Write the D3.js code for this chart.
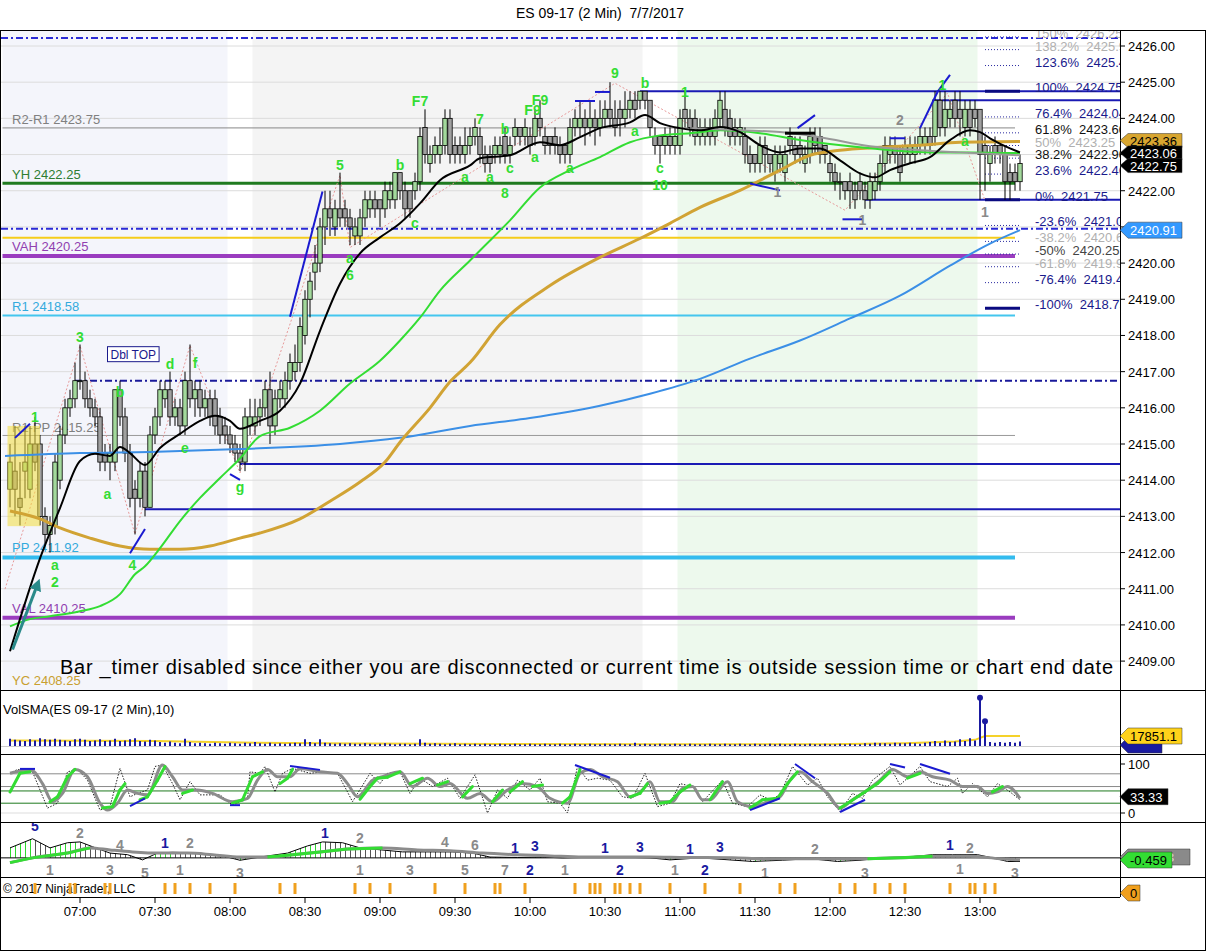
<!DOCTYPE html>
<html>
<head>
<meta charset="utf-8">
<script src="https://cdn.jsdelivr.net/npm/d3@7"></script>
<style>
  body { margin:0; background:#fff; }
  svg { display:block; font-family: Arial, "Liberation Sans", sans-serif; }
</style>
</head>
<body>
<svg id="chart" width="1206" height="952"></svg>
<script>
// ---- data (t = minutes after 06:30, bar i ends at t = 2 + 2i) ----
var bars = [
 [2413.75,2415,2413.25,2414.5],[2414.25,2415.5,2413,2413.75],[2413.5,2414.5,2412.75,2413.25],[2414.25,2415.5,2413.5,2414.5],
 [2413.75,2415.5,2413.5,2415],[2415,2415.75,2414.25,2414.5],[2415,2415.25,2412.75,2413],[2413,2413.25,2412.25,2412.5],
 [2412.5,2413,2412,2412.75],[2412.75,2414.75,2412.5,2414.5],[2414,2415.5,2413.75,2415.25],[2415.25,2416.25,2415,2416],
 [2416,2416.5,2415.75,2416.25],[2416.25,2417.25,2416,2416.75],[2416.75,2417.75,2416.5,2416.75],[2416.75,2417,2416,2416.25],
 [2416.25,2416.5,2415.75,2416],[2416,2416.25,2415.5,2415.75],[2415.75,2416,2414.25,2414.5],[2414.75,2415,2414.25,2414.5],
 [2414.5,2415,2414,2414.75],[2414.5,2416.5,2414.25,2416.5],[2416.5,2416.75,2415.5,2415.75],[2415.75,2416,2414.5,2414.75],
 [2414.75,2415,2413.25,2413.5],[2413.75,2414,2412.5,2413.5],[2413.5,2414.5,2413.25,2414.25],[2414.25,2414.5,2413,2413.25],
 [2413.25,2415.5,2413.25,2415.25],[2415.25,2416,2415,2415.75],[2415.75,2416.75,2415.5,2416.5],[2416.25,2416.75,2416,2416.5],
 [2416.5,2417,2415.5,2415.75],[2415.75,2416.25,2415.5,2416],[2416,2416.25,2415.25,2415.5],[2415.5,2417,2415.25,2416.75],
 [2416.75,2417.75,2416,2416.25],[2416.25,2416.75,2415.75,2416.5],[2416.5,2416.75,2415.75,2416],[2416,2416.5,2415.75,2416.25],
 [2416.25,2416.5,2415.5,2415.75],[2416.25,2416.5,2415.25,2415.5],[2415.75,2416,2415,2415.25],[2415.5,2415.75,2415,2415.25],
 [2415.25,2415.5,2414.75,2415],[2415,2415.25,2414.5,2414.75],[2414.75,2415,2414.25,2414.5],[2414.5,2416,2414.25,2415.75],
 [2415.5,2416.25,2415.25,2415.75],[2415.5,2416.25,2415.25,2415.75],[2415.75,2416.25,2415.5,2416],[2416,2416.75,2415.75,2416.5],
 [2416.5,2417,2415,2415.5],[2415.5,2416.5,2415.25,2416.25],[2416.25,2416.75,2416,2416.5],[2416.25,2417,2416,2416.75],
 [2416.75,2417.5,2416.5,2417.25],[2417,2417.75,2416.75,2417.25],[2417.25,2418.5,2417,2418.25],[2418,2419.25,2417.75,2419],
 [2419,2419.75,2418.5,2419.5],[2419.75,2420.5,2419.25,2420],[2420,2421.25,2419.75,2421],[2421,2422,2420.5,2421.5],
 [2421.5,2422,2420.75,2421.25],[2421,2421.75,2420.75,2421.5],[2421.5,2422.5,2421,2421.25],[2421.5,2421.75,2421,2421.25],
 [2421.25,2421.5,2420.5,2421],[2420.75,2421.25,2420.5,2421],[2420.75,2421.5,2420.5,2421.25],[2421.25,2422,2421,2421.75],
 [2421.5,2422,2421.25,2421.75],[2421.75,2422,2421.25,2421.5],[2421.75,2421.75,2421,2421.5],[2421.5,2422.25,2421.25,2422],
 [2421.75,2422.25,2421.5,2422],[2421.75,2422.5,2421.5,2422.5],[2422.5,2422.5,2421.75,2422],[2422,2422.25,2421.25,2421.5],
 [2422,2422,2421.25,2421.5],[2422,2422.5,2421.75,2422.25],[2422.25,2423.75,2422,2423.5],[2423.75,2424.25,2422.75,2423],
 [2422.75,2423.25,2422.5,2423],[2423,2423.5,2422.75,2423.25],[2423,2423.75,2422.75,2423.25],[2423.25,2424.25,2423,2424],
 [2424,2424.25,2422.75,2423],[2423.25,2423.5,2422.75,2423],[2423.25,2423.5,2422.75,2423],[2423,2423.75,2422.75,2423.25],
 [2423.25,2423.75,2423,2423.5],[2423.5,2424,2423.25,2423.75],[2423.5,2423.75,2422.75,2423],[2423,2423.25,2422.5,2422.75],
 [2423,2423.25,2422.5,2422.75],[2423,2423.5,2422.75,2423.25],[2423,2423.5,2422.75,2423.25],[2423.5,2423.75,2422.75,2423],
 [2423,2423.5,2422.75,2423.25],[2423.5,2424,2423.25,2423.75],[2423.75,2423.75,2423.25,2423.5],[2423.5,2424,2423.25,2423.75],
 [2423.5,2423.75,2423,2423.25],[2423.5,2424.25,2423.25,2424],[2424,2424.5,2423.5,2423.75],[2423.5,2423.75,2423,2423.25],
 [2423.5,2423.5,2423,2423.25],[2423.5,2423.75,2423,2423.25],[2423.25,2423.5,2422.75,2423],[2423.25,2423.25,2422.75,2423],
 [2423,2424,2422.75,2423.75],[2423.75,2424.25,2423.5,2424],[2423.75,2424.5,2423.5,2424],[2424,2424.25,2423.25,2423.75],
 [2423.75,2424.5,2423.5,2424],[2424,2424.25,2423.25,2423.75],[2423.75,2424.5,2423.5,2424],[2424,2424.5,2423.75,2424.25],
 [2424.25,2425,2423.75,2424],[2424,2424.5,2423.5,2423.75],[2424.25,2424.5,2423.5,2424],[2424,2424.75,2423.75,2424.25],
 [2424.25,2424.75,2424,2424.5],[2424.5,2424.75,2424,2424.25],[2424.5,2424.75,2424.25,2424.75],[2424.75,2424.75,2424.25,2424.5],
 [2424.5,2424.5,2423.5,2423.75],[2423.5,2423.75,2423,2423.25],[2423.5,2423.5,2422.75,2423.25],[2423.25,2423.75,2423,2423.5],
 [2423.5,2423.75,2423,2423.25],[2423.25,2423.75,2423,2423.5],[2423.25,2424.25,2423,2424],[2424.25,2424.75,2423.75,2424],
 [2424,2424.25,2423.5,2423.75],[2424,2424.25,2423.25,2423.5],[2423.5,2424,2423.25,2423.75],[2423.5,2424,2423.25,2423.75],
 [2423.75,2424,2423.25,2423.5],[2423.5,2424.25,2423.25,2424],[2424,2424.75,2423.75,2424.5],[2424.25,2424.75,2423.5,2423.75],
 [2424,2424.25,2423.25,2423.5],[2423.75,2424,2423.25,2423.5],[2423.5,2424,2423.25,2423.75],[2423.5,2423.75,2422.75,2423],
 [2423,2423.25,2422.5,2422.75],[2423,2423,2422.5,2422.75],[2422.75,2423.5,2422.5,2423.25],[2423.25,2423.5,2422.5,2423],
 [2423,2423,2422.5,2422.75],[2422.5,2423.25,2422.25,2423],[2422.75,2423.25,2422.5,2423],[2422.5,2423.25,2422.25,2423],
 [2423.5,2423.75,2423,2423.25],[2423.25,2423.5,2422.75,2423],[2423.25,2423.5,2422.75,2423],[2422.75,2423.25,2422.5,2423],
 [2423,2423.75,2422.75,2423.5],[2423.5,2423.75,2423,2423.25],[2423.5,2423.75,2422.75,2423],[2423.25,2423.25,2422.75,2423],
 [2422.75,2423,2422.25,2422.5],[2422.5,2422.75,2422,2422.25],[2422.25,2422.5,2421.75,2422.25],[2422.25,2422.25,2421.75,2422],
 [2422.25,2422.5,2421.5,2422],[2422,2422.25,2421.5,2421.75],[2422.25,2422.5,2421.75,2422],[2422,2422.25,2421.5,2421.75],
 [2421.75,2422.5,2421.5,2422.25],[2422,2422.5,2421.75,2422.25],[2422.25,2423,2422,2422.75],[2422.75,2423.5,2422.5,2423.25],
 [2423,2423.5,2422.75,2423.25],[2423.25,2423.5,2422.75,2423],[2423,2423.25,2422.25,2422.5],[2423,2423.5,2422.75,2423.25],
 [2423,2423.5,2422.75,2423.25],[2423,2423.5,2422.75,2423.25],[2423.25,2423.75,2423,2423.5],[2423.25,2423.75,2423,2423.5],
 [2423.5,2423.75,2423,2423.25],[2423.5,2424.75,2423.25,2424.5],[2424.5,2424.75,2423.5,2423.75],[2423.75,2424.75,2423.5,2424.25],
 [2424,2424.5,2423.75,2424.25],[2424.5,2424.75,2423.75,2424],[2424.25,2424.75,2423.5,2424],[2423.75,2424.5,2423.5,2424.25],
 [2424.25,2424.5,2423.5,2423.75],[2424.25,2424.5,2423.75,2424],[2424.25,2424.25,2421.75,2423],[2423.25,2423.5,2422,2423],
 [2422.75,2423.25,2422.25,2423],[2423.25,2423.5,2422.75,2423],[2423.25,2423.25,2422.75,2423],[2423,2423.25,2421.75,2422.25],
 [2422.5,2422.75,2421.75,2422.25],[2422.5,2422.75,2422,2422.25],[2422.25,2423,2422,2422.75]
];
// volume per bar, thousands of contracts
var volumes = [
 13,11,10,9,12,10,14,12,11,13, 11,10,9,12,13,11,9,10,12,9, 10,13,9,10,12,14,9,8,11,10,
 7,6,8,6,5,13,7,5,6,5, 4,6,5,4,6,5,4,6,5,7, 5,4,6,4,5,4,5,6,5,12,
 7,5,12,6,5,4,5,4,5,4, 4,5,4,3,4,5,4,3,4,4, 3,4,12,6,4,5,4,3,4,5,
 3,4,3,4,3,4,3,3,4,3, 3,4,3,3,4,3,3,4,3,3, 4,3,3,4,3,3,4,3,3,4,
 3,3,4,3,3,6,3,4,3,3, 4,3,3,4,3,3,4,3,3,3, 4,3,3,4,3,3,4,3,3,4,
 3,3,4,3,4,3,3,4,3,3, 4,3,3,4,3,3,4,3,4,3, 3,5,4,6,5,5,4,6,5,5,
 6,5,4,6,7,9,6,10,7,8, 12,9,14,10,86,44,7,6,7,6, 7,6,8
];
var volSma = [[2,10],[60,9],[100,6],[140,4.5],[200,3.5],[260,3],[330,3],[360,5],[380,8],[388,11],[392,17.85],[406,17.85]];
var volMarker = 17851.1;

var emaFast = [[2,2409.27],[14,2411.84],[22,2413.23],[30,2414.53],[36,2414.73],[42,2414.67],[46,2414.92],[50,2414.75],[56,2414.42],[62,2414.89],[70,2415.28],[78,2415.64],[84,2415.78],[90,2415.64],[94,2415.42],[102,2415.64],[110,2415.92],[118,2416.67],[126,2418.13],[134,2419.43],[142,2420.27],[150,2420.71],[158,2421.10],[166,2421.65],[174,2422.29],[186,2422.70],[190,2422.90],[202,2422.98],[214,2423.34],[222,2423.26],[230,2423.48],[238,2423.73],[250,2423.89],[256,2424.09],[262,2423.87],[270,2423.73],[278,2423.67],[286,2423.76],[294,2423.62],[302,2423.26],[310,2423.06],[318,2423.17],[326,2423.17],[334,2422.84],[342,2422.48],[348,2422.37],[354,2422.57],[362,2422.76],[370,2422.93],[378,2423.40],[386,2423.67],[390,2423.62],[394,2423.45],[402,2423.17],[406,2423.06]];
var smaGreen = [[2,2409.96],[10,2410.16],[18,2410.24],[30,2410.38],[38,2410.52],[46,2410.85],[52,2411.40],[56,2411.62],[62,2412.12],[70,2412.87],[78,2413.51],[86,2414.06],[94,2414.60],[102,2415.22],[114,2415.45],[126,2415.92],[138,2416.67],[150,2417.30],[158,2417.86],[166,2418.49],[174,2419.24],[186,2420.07],[190,2420.35],[202,2421.18],[214,2422.09],[226,2422.57],[238,2422.93],[250,2423.34],[262,2423.53],[274,2423.59],[286,2423.67],[302,2423.59],[318,2423.40],[342,2423.20],[370,2423.06],[386,2423.06],[406,2423.04]];
var smaGold = [[2,2413.15],[14,2412.93],[22,2412.68],[34,2412.40],[46,2412.18],[58,2412.09],[70,2412.09],[82,2412.18],[94,2412.40],[102,2412.54],[118,2412.93],[130,2413.42],[142,2413.95],[152,2414.50],[158,2415.05],[170,2416.00],[178,2416.72],[186,2417.25],[198,2418.30],[218,2419.38],[238,2420.16],[254,2420.68],[266,2421.10],[278,2421.54],[294,2422.01],[310,2422.57],[322,2422.98],[334,2423.12],[350,2423.20],[366,2423.26],[382,2423.34],[406,2423.36]];
var vwap = [[0,2414.67],[30,2414.75],[58,2414.78],[94,2414.86],[134,2415.00],[158,2415.17],[186,2415.50],[210,2415.72],[238,2416.06],[258,2416.39],[278,2416.80],[298,2417.36],[318,2417.86],[338,2418.47],[358,2419.10],[378,2419.93],[394,2420.54],[406,2420.91]];
var smaGray = [[274,2423.73],[294,2423.67],[310,2423.62],[326,2423.48],[346,2423.23],[366,2423.12],[382,2423.06],[406,2422.98]];
var zigzag = [[0,2410.99],[30,2417.72],[52,2412.51],[74,2417.72],[94,2414.20],[134,2422.43],[138,2420.43],[244,2424.97],[336,2421.46],[377,2424.70],[392,2421.73]];

var levelNames  = ["R2-R1","YH","VAH","R1","R1-PP","PP","VAL","YC"];
var levelPrices = [2423.75,2422.25,2420.25,2418.58,2415.25,2411.92,2410.25,2408.25];
var yellowLevel = 2420.70;
var blueDashLevels = [2426.22,2420.95];
var navyDashRay = [28,2416.75];
var navyRays = [[94,2414.45],[56,2413.2],[254,2424.75],[371,2424.5],[344,2421.75]];

var fibPct   = ["150%","138.2%","123.6%","100%","76.4%","61.8%","50%","38.2%","23.6%","0%","-23.6%","-38.2%","-50%","-61.8%","-76.4%","-100%"];
var fibPrice = [2426.25,2425.90,2425.46,2424.75,2424.04,2423.60,2423.25,2422.90,2422.46,2421.75,2421.04,2420.60,2420.25,2419.90,2419.46,2418.75];

var trendLines = [[114,2418.52,127,2421.98],[4,2415.17,10,2415.56],[50,2411.98,56,2412.65],[90,2414.17,94,2414.01],
  [228,2424.48,236,2424.48],[236,2424.73,242,2424.73],[317,2423.73,324,2424.09],[298,2422.20,310,2422.01],
  [335,2421.21,343,2421.21],[354,2423.45,360,2423.45],[366,2423.73,373,2424.73],[373,2424.73,378,2425.20]];
var blackMarks = [[312,2423.59,324,2423.59]];
var arrowLine = [3,2409.32,13,2411.12];
var highlight = [1,14,2415.5,2412.73];
var dblTop = ["Dbl TOP",41,2417.69];

var greenNotes = [["1",12,2415.75],["3",30,2417.97],["a",20,2411.65],["2",20,2411.18],["b",46,2416.44],["a",41,2413.62],
  ["4",51,2411.65],["d",66,2417.22],["f",76,2417.25],["e",72,2414.89],["g",94,2413.81],["5",134,2422.70],["a",138,2420.13],
  ["6",138,2419.66],["b",158,2422.70],["c",164,2421.12],["F7",166,2424.48],["7",190,2423.98],["a",184,2422.37],["a",194,2422.37],
  ["b",200,2423.70],["c",202,2422.62],["8",200,2421.93],["F9",211,2424.23],["F9",214,2424.50],["a",212,2422.93],["a",226,2422.62],
  ["9",244,2425.25],["b",256,2424.98],["a",252,2423.65],["c",262,2422.62],["10",262,2422.15],["1",272,2424.73],["1",375,2424.92],["a",384,2423.37]];
var grayNotes = [["2",358,2423.95],["1",309,2421.96],["1",343,2421.18],["1",392,2421.40]];

var priceMarkers = [2423.36,2423.06,2422.75,2420.91];
var priceTicks = [2409,2410,2411,2412,2413,2414,2415,2416,2417,2418,2419,2420,2421,2422,2423,2424,2425,2426];
var timeTicks = [30,60,90,120,150,180,210,240,270,300,330,360,390];
var sessionShade = [[-1,89],[99,255],[269,389]];

var stochK = [[2,81],[5,89],[11,84],[17,10],[21,20],[25,84],[29,89],[33,67],[38,6],[42,13],[46,91],[50,33],[53,40],[57,47],[60,95],[63,98],[67,60],[70,27],[74,64],[78,37],[86,37],[91,16],[97,30],[98,84],[102,81],[104,95],[108,43],[111,81],[115,91],[122,81],[127,84],[133,81],[137,43],[139,23],[146,81],[150,60],[153,81],[158,84],[162,40],[166,71],[171,54],[177,71],[182,30],[188,78],[193,0],[197,47],[201,30],[205,67],[210,47],[214,71],[217,23],[222,20],[225,0],[229,95],[233,67],[237,71],[242,67],[247,33],[251,30],[256,81],[261,13],[266,20],[270,60],[275,54],[279,23],[287,67],[291,20],[297,13],[302,37],[306,27],[310,37],[315,95],[321,57],[325,71],[329,33],[334,3],[339,40],[343,30],[347,67],[354,95],[358,57],[366,95],[370,64],[377,54],[381,71],[383,40],[387,60],[393,33],[397,60],[402,43],[406,27]];
var stochD = [[2,43],[6,81],[10,84],[14,67],[18,23],[21,33],[25,74],[28,89],[31,81],[35,40],[39,10],[43,13],[46,47],[48,60],[51,33],[54,27],[57,33],[61,67],[64,95],[67,64],[71,40],[75,47],[81,40],[86,30],[91,20],[95,27],[99,74],[103,84],[106,81],[110,60],[113,71],[115,89],[121,84],[126,84],[130,81],[135,70],[139,40],[142,28],[146,54],[149,71],[153,73],[158,84],[162,60],[167,71],[173,57],[177,64],[179,57],[183,33],[187,54],[191,40],[195,23],[199,47],[202,43],[207,64],[211,54],[215,57],[219,23],[223,20],[226,33],[230,89],[234,78],[239,71],[243,67],[247,47],[250,33],[254,40],[257,60],[259,40],[262,20],[266,23],[270,43],[274,57],[278,37],[282,27],[287,64],[291,27],[298,10],[303,27],[309,30],[313,60],[317,84],[321,67],[325,64],[330,33],[334,10],[338,23],[343,40],[349,60],[354,84],[358,81],[361,71],[366,81],[371,74],[377,67],[382,60],[386,54],[390,47],[395,43],[399,54],[403,40],[406,30]];
var stochSlow = [[2,81],[10,89],[15,60],[19,23],[23,40],[28,89],[33,74],[38,20],[41,6],[45,20],[49,47],[53,40],[57,37],[63,98],[67,74],[71,47],[77,47],[83,40],[91,23],[97,30],[101,67],[105,89],[109,74],[114,74],[118,91],[126,84],[133,81],[137,60],[141,33],[147,67],[151,74],[158,84],[163,54],[169,71],[174,54],[178,60],[185,30],[190,40],[195,23],[201,47],[207,60],[213,54],[218,30],[225,20],[230,81],[234,89],[239,74],[245,64],[250,33],[255,47],[258,64],[262,23],[267,23],[271,50],[275,54],[279,27],[282,27],[289,64],[293,23],[299,13],[305,23],[310,33],[314,67],[318,84],[323,64],[329,40],[334,10],[339,27],[345,47],[350,67],[355,89],[361,74],[366,84],[371,74],[378,67],[383,54],[389,54],[393,40],[397,43],[401,54],[406,30]];
var stochLevels = [80,54,45,20,0];
var stochMarker = 33.33;
var stochDivs = [[6,90,12,90],[50,14,56,30],[90,16,94,16],[114,96,126,88],[228,98,242,72],[316,100,324,71],[298,6,310,30],[334,2,344,27],[354,100,360,93],[366,100,378,80]];

var macdLine = [[2,1.25],[11,2.4],[18,1.25],[25,1.9],[30,2.0],[35,1.4],[42,0.6],[49,0.4],[55,-0.25],[61,0.6],[67,0.7],[78,0.6],[89,0.1],[94,-0.3],[102,0.1],[113,0.6],[121,1.5],[127,2.0],[135,1.9],[142,1.25],[159,0.75],[171,0.75],[179,0.75],[187,0.6],[194,0.1],[205,0.05],[215,0.1],[223,0],[231,0.05],[245,0.1],[258,0],[266,-0.25],[278,0],[299,-0.45],[311,-0.3],[322,-0.1],[333,-0.45],[342,-0.3],[353,0.05],[361,0.1],[371,0.4],[379,0.4],[389,0.4],[395,0],[401,-0.45],[406,-0.45]];
var macdSignal = [[2,-0.6],[11,0],[25,0.6],[34,1.25],[42,1.0],[51,0.75],[62,0.6],[73,0.6],[83,0.4],[94,0.1],[105,0.1],[115,0.4],[126,0.75],[137,1.1],[151,1.25],[165,1.0],[178,0.9],[191,0.6],[205,0.4],[218,0.25],[231,0.1],[245,0.1],[258,0.1],[271,0.05],[291,0],[305,-0.1],[318,-0.1],[331,-0.1],[345,-0.1],[358,0],[371,0.2],[385,0.2],[398,-0.1],[406,-0.25]];
var macdMarkers = ["-0.2833","-0.459"];
var macdNavyNotes = [["5",12,4.0],["1",64,1.9],["1",128,3.1],["1",204,1.25],["2",210,-1.5],["3",212,1.5],["1",240,1.25],["2",246,-1.5],["3",254,1.4],["1",274,1.1],["2",280,-1.5],["3",286,1.4],["1",378,1.6]];
var macdGrayNotes = [["2",30,3.1],["1",18,-1.5],["4",46,1.6],["3",42,-1.5],["5",56,-1.9],["2",74,1.9],["1",70,-1.5],["3",94,-1.9],["2",142,2.5],["1",142,-1.5],["3",162,-1.5],["4",176,2.0],["5",184,-1.5],["6",188,1.6],["7",200,-1.5],["1",224,-1.5],["1",268,-1.5],["1",304,-1.9],["2",324,1.1],["3",344,-1.9],["1",382,-1.4],["2",386,1.25],["3",404,-1.9]];
var alertTimes = [12,26,28,40,42,64,68,74,82,92,110,116,140,146,154,172,184,196,198,208,228,234,236,238,244,246,250,254,266,280,294,310,316,334,340,348,354,360,378,386,388,392,396];

// ---- drawing ----
var svg = d3.select("#chart");
var XR = 1120;
var x  = d3.scaleLinear().domain([0,390]).range([5,980]);
var y  = d3.scaleLinear().domain([2409,2426]).range([661.1,46]);
var yV = d3.scaleLinear().domain([0,50]).range([746,718]);
var yS = d3.scaleLinear().domain([0,100]).range([813,764]);
var yM = d3.scaleLinear().domain([-2.4,4.5]).range([877,822]);
var barT = function(i) { return 2 + 2*i; };
var NAVY = "#1a1ab4", GREEN = "#33dd33";

svg.append("rect").attr("width",1206).attr("height",952).attr("fill","#fff");

var defs = svg.append("defs");
function clip(id,x0,y0,x1,y1) {
  defs.append("clipPath").attr("id",id).append("rect")
    .attr("x",x0).attr("y",y0).attr("width",x1-x0).attr("height",y1-y0);
}
clip("cMain",1,31,XR,690); clip("cVol",1,690,XR,754); clip("cSto",1,754,XR,822);
clip("cMacd",1,822,XR,877); clip("cMark",1,877,XR,897);
function hatch(id,color) {
  var p = defs.append("pattern").attr("id",id).attr("patternUnits","userSpaceOnUse")
    .attr("width",5).attr("height",10);
  p.append("rect").attr("x",0).attr("y",0).attr("width",1).attr("height",10).attr("fill",color);
}
hatch("hGreen","#2ed82e"); hatch("hGray","#555");
defs.append("marker").attr("id","arrowHead").attr("viewBox","0 0 10 10").attr("refX",5).attr("refY",5)
  .attr("markerWidth",4).attr("markerHeight",4).attr("orient","auto")
  .append("path").attr("d","M0,0L10,5L0,10z").attr("fill","#2a8a8a");

// title
svg.append("text").attr("x",600).attr("y",18).attr("text-anchor","middle").attr("font-size",14)
  .text("ES 09-17 (2 Min)\u00a0\u00a07/7/2017");

// ---------- main panel ----------
var main = svg.append("g").attr("clip-path","url(#cMain)");
var shadeColors = ["#f4f5fb","#f4f4f4","#edf9ed"];
main.selectAll("rect.shade").data(sessionShade).enter().append("rect").attr("class","shade")
  .attr("x",function(d){ return x(d[0]); }).attr("y",31)
  .attr("width",function(d){ return x(d[1]) - x(d[0]); }).attr("height",659)
  .attr("fill",function(d,i){ return shadeColors[i]; });

main.selectAll("line.grid").data(priceTicks).enter().append("line").attr("class","grid")
  .attr("x1",1).attr("x2",XR).attr("y1",function(d){ return y(d); }).attr("y2",function(d){ return y(d); })
  .attr("stroke","#dcdcdc").attr("stroke-width",1);

// full-width dash-dot lines
main.selectAll("line.bdash").data(blueDashLevels).enter().append("line").attr("class","bdash")
  .attr("x1",1).attr("x2",XR).attr("y1",function(d){ return y(d); }).attr("y2",function(d){ return y(d); })
  .attr("stroke","#2a2ad6").attr("stroke-width",2).attr("stroke-dasharray","7,3,2,3");
main.append("line").attr("x1",x(navyDashRay[0])).attr("x2",XR)
  .attr("y1",y(navyDashRay[1])).attr("y2",y(navyDashRay[1]))
  .attr("stroke","#1a1a9a").attr("stroke-width",2).attr("stroke-dasharray","7,3,2,3");
main.selectAll("line.ray").data(navyRays).enter().append("line").attr("class","ray")
  .attr("x1",function(d){ return x(d[0]); }).attr("x2",XR)
  .attr("y1",function(d){ return y(d[1]); }).attr("y2",function(d){ return y(d[1]); })
  .attr("stroke",NAVY).attr("stroke-width",2);

// pivot levels (YC line sits under the panel edge, only its label shows)
var levelStyle = [
  {c:"#888",w:1,t:"#808080"},{c:"#1f7a1f",w:3,t:"#2e7d32"},{c:"#9a3cbf",w:4,t:"#9040b0"},{c:"#44c6ee",w:2,t:"#33aadd"},
  {c:"#999",w:1,t:"#808080"},{c:"#33bbee",w:4,t:"#33aadd"},{c:"#9a3cbf",w:4,t:"#9040b0"},{c:"none",w:0,t:"#c8a030"}];
var xLevEnd = x(404);
main.append("line").attr("x1",x(-1)).attr("x2",xLevEnd).attr("y1",y(yellowLevel)).attr("y2",y(yellowLevel))
  .attr("stroke","#f5cc1a").attr("stroke-width",2);
levelPrices.forEach(function(p,i) {
  var s = levelStyle[i];
  if (s.w > 0) {
    main.append("line").attr("x1",x(-1)).attr("x2",xLevEnd).attr("y1",y(p)+s.w/2).attr("y2",y(p)+s.w/2)
      .attr("stroke",s.c).attr("stroke-width",s.w);
  }
  main.append("text").attr("x",12).attr("y",y(p)-3).attr("font-size",13).attr("fill",s.t)
    .text(levelNames[i] + " " + p.toFixed(2));
});

// fib block at the right
var fibColor = function(p) {
  if (["150%","138.2%","50%","-38.2%","-61.8%"].indexOf(p) >= 0) return "#b0b0b0";
  if (["61.8%","38.2%"].indexOf(p) >= 0) return "#111";
  if (p == "-50%") return "#444";
  return "#1a1a8c";
};
fibPrice.forEach(function(p,i) {
  var thick = ["100%","0%","-100%"].indexOf(fibPct[i]) >= 0;
  main.append("line").attr("x1",x(392)).attr("x2",x(406)).attr("y1",y(p)).attr("y2",y(p))
    .attr("stroke",thick ? "#0a0a80" : "#2a2aa0").attr("stroke-width",thick ? 3 : 1)
    .attr("stroke-dasharray",thick ? null : "1,2");
  main.append("text").attr("x",1035).attr("y",y(p)+1).attr("font-size",13).attr("fill",fibColor(fibPct[i]))
    .text(fibPct[i] + "\u00a0\u00a0" + p.toFixed(2));
});

// pink zigzag
var lineTP = d3.line().x(function(d){ return x(d[0]); }).y(function(d){ return y(d[1]); });
main.append("path").attr("d",lineTP(zigzag)).attr("fill","none").attr("stroke","#e79a9a")
  .attr("stroke-width",1).attr("stroke-dasharray","2,2");

// candles
var cw = 2.2;
var candle = main.selectAll("g.bar").data(bars).enter().append("g").attr("class","bar");
candle.append("line")
  .attr("x1",function(d,i){ return x(barT(i)); }).attr("x2",function(d,i){ return x(barT(i)); })
  .attr("y1",function(d){ return y(d[1]); }).attr("y2",function(d){ return y(d[2]); })
  .attr("stroke","#000").attr("stroke-width",1);
candle.append("rect")
  .attr("x",function(d,i){ return x(barT(i)) - cw; }).attr("width",cw*2)
  .attr("y",function(d){ return y(Math.max(d[0],d[3])); })
  .attr("height",function(d){ return Math.max(1, Math.abs(y(d[0]) - y(d[3]))); })
  .attr("fill",function(d){ return d[3] >= d[0] ? "#a3d99c" : "#a0a0a0"; })
  .attr("stroke","#000").attr("stroke-width",0.8);

// yellow highlight box
main.append("rect").attr("x",x(highlight[0])).attr("y",y(highlight[2]))
  .attr("width",x(highlight[1]) - x(highlight[0])).attr("height",y(highlight[3]) - y(highlight[2]))
  .attr("fill","#f2dc3c").attr("opacity",0.55);

// moving averages
var smooth = d3.line().curve(d3.curveMonotoneX).x(function(d){ return x(d[0]); }).y(function(d){ return y(d[1]); });
main.append("path").attr("d",smooth(vwap)).attr("fill","none").attr("stroke","#3b8fe6").attr("stroke-width",2);
main.append("path").attr("d",smooth(smaGold)).attr("fill","none").attr("stroke","#d1a334").attr("stroke-width",3);
main.append("path").attr("d",smooth(smaGreen)).attr("fill","none").attr("stroke","#33dd33").attr("stroke-width",2);
main.append("path").attr("d",smooth(smaGray)).attr("fill","none").attr("stroke","#999").attr("stroke-width",2);
main.append("path").attr("d",smooth(emaFast)).attr("fill","none").attr("stroke","#000").attr("stroke-width",2);

// trend / divergence marks
main.selectAll("line.tl").data(trendLines).enter().append("line").attr("class","tl")
  .attr("x1",function(d){ return x(d[0]); }).attr("y1",function(d){ return y(d[1]); })
  .attr("x2",function(d){ return x(d[2]); }).attr("y2",function(d){ return y(d[3]); })
  .attr("stroke","#1a1ad0").attr("stroke-width",2);
main.selectAll("line.bm").data(blackMarks).enter().append("line").attr("class","bm")
  .attr("x1",function(d){ return x(d[0]); }).attr("y1",function(d){ return y(d[1]); })
  .attr("x2",function(d){ return x(d[2]); }).attr("y2",function(d){ return y(d[3]); })
  .attr("stroke","#000").attr("stroke-width",3);
main.append("line").attr("x1",x(arrowLine[0])).attr("y1",y(arrowLine[1]))
  .attr("x2",x(arrowLine[2])).attr("y2",y(arrowLine[3]))
  .attr("stroke","#2a8a8a").attr("stroke-width",3).attr("marker-end","url(#arrowHead)");

// Dbl TOP box
var dbl = main.append("g");
var dblText = dbl.append("text").attr("x",x(dblTop[1]) + 3).attr("y",y(dblTop[2]) + 12)
  .attr("font-size",12).attr("fill","#1a1a8c").text(dblTop[0]);
var bb = dblText.node().getBBox();
dbl.insert("rect","text").attr("x",bb.x - 3).attr("y",y(dblTop[2])).attr("width",bb.width + 6).attr("height",15)
  .attr("fill","#fff").attr("stroke","#1a1a8c").attr("stroke-width",1);

// wave labels
main.selectAll("text.gn").data(greenNotes).enter().append("text").attr("class","gn")
  .attr("x",function(d){ return x(d[1]); }).attr("y",function(d){ return y(d[2]) + 5; })
  .attr("text-anchor","middle").attr("font-size",14).attr("font-weight","bold").attr("fill",GREEN)
  .text(function(d){ return d[0]; });
main.selectAll("text.gr").data(grayNotes).enter().append("text").attr("class","gr")
  .attr("x",function(d){ return x(d[1]); }).attr("y",function(d){ return y(d[2]) + 5; })
  .attr("text-anchor","middle").attr("font-size",14).attr("font-weight","bold").attr("fill","#8a8a8a")
  .text(function(d){ return d[0]; });

main.append("text").attr("x",60).attr("y",674).attr("font-size",20).attr("fill","#000")
  .attr("textLength",1053).attr("lengthAdjust","spacing")
  .text("Bar _timer disabled since either you are disconnected or current time is outside session time or chart end date");

// ---------- volume panel ----------
var vol = svg.append("g").attr("clip-path","url(#cVol)");
vol.append("line").attr("x1",1).attr("x2",XR).attr("y1",746.5).attr("y2",746.5).attr("stroke","#ccc");
vol.append("text").attr("x",3).attr("y",714).attr("font-size",13).text("VolSMA(ES 09-17 (2 Min),10)");
vol.append("path").attr("d",d3.line().x(function(d){ return x(d[0]); }).y(function(d){ return yV(d[1]); })(volSma))
  .attr("fill","none").attr("stroke","#f5d22a").attr("stroke-width",2);
vol.selectAll("line.v").data(volumes).enter().append("line").attr("class","v")
  .attr("x1",function(d,i){ return x(barT(i)); }).attr("x2",function(d,i){ return x(barT(i)); })
  .attr("y1",yV(0)).attr("y2",function(d){ return yV(d); })
  .attr("stroke","#1a1aa0").attr("stroke-width",2);
vol.selectAll("circle.vd").data(volumes.map(function(v,i){ return [i,v]; }).filter(function(d){ return d[1] > 30; }))
  .enter().append("circle").attr("class","vd")
  .attr("cx",function(d){ return x(barT(d[0])); }).attr("cy",function(d){ return yV(d[1]); })
  .attr("r",3).attr("fill","#1a1aa0");

// ---------- stochastic panel ----------
var sto = svg.append("g").attr("clip-path","url(#cSto)");
sto.selectAll("line.sl").data(stochLevels).enter().append("line").attr("class","sl")
  .attr("x1",1).attr("x2",XR).attr("y1",function(d){ return yS(d); }).attr("y2",function(d){ return yS(d); })
  .attr("stroke",function(d){ return d == 0 ? "#ddd" : (d == 45 || d == 20) ? "#1f7a1f" : "#8a8a8a"; })
  .attr("stroke-width",1);
var sLine = d3.line().curve(d3.curveMonotoneX).x(function(d){ return x(d[0]); }).y(function(d){ return yS(d[1]); });
sto.append("path").attr("d",d3.line().x(function(d){ return x(d[0]); }).y(function(d){ return yS(d[1]); })(stochK))
  .attr("fill","none").attr("stroke","#222").attr("stroke-width",1).attr("stroke-dasharray","1.5,1.5");
sto.append("path").attr("d",sLine(stochSlow)).attr("fill","none").attr("stroke","#8c8c8c").attr("stroke-width",3);
for (var k = 1; k < stochD.length; k++) {
  if (stochD[k][1] > stochD[k-1][1]) {
    sto.append("path").attr("d",sLine([stochD[k-1],stochD[k]])).attr("fill","none")
      .attr("stroke",GREEN).attr("stroke-width",3).attr("stroke-linecap","round");
  }
}
sto.selectAll("line.sd").data(stochDivs).enter().append("line").attr("class","sd")
  .attr("x1",function(d){ return x(d[0]); }).attr("y1",function(d){ return yS(d[1]); })
  .attr("x2",function(d){ return x(d[2]); }).attr("y2",function(d){ return yS(d[3]); })
  .attr("stroke","#1a1ad0").attr("stroke-width",2);

// ---------- MACD panel ----------
var mac = svg.append("g").attr("clip-path","url(#cMacd)");
for (var m = 1; m < macdLine.length; m++) {
  var a = macdLine[m-1], b = macdLine[m];
  mac.append("path")
    .attr("d","M" + x(a[0]) + "," + yM(0) + "L" + x(a[0]) + "," + yM(a[1]) + "L" + x(b[0]) + "," + yM(b[1]) + "L" + x(b[0]) + "," + yM(0) + "Z")
    .attr("fill",b[1] > a[1] ? "url(#hGreen)" : "url(#hGray)");
}
mac.append("line").attr("x1",1).attr("x2",XR).attr("y1",yM(0)).attr("y2",yM(0)).attr("stroke","#000");
mac.append("path").attr("d",d3.line().x(function(d){ return x(d[0]); }).y(function(d){ return yM(d[1]); })(macdLine))
  .attr("fill","none").attr("stroke","#000").attr("stroke-width",1);
var mLine = d3.line().curve(d3.curveMonotoneX).x(function(d){ return x(d[0]); }).y(function(d){ return yM(d[1]); });
mac.append("path").attr("d",mLine(macdSignal)).attr("fill","none").attr("stroke","#8c8c8c").attr("stroke-width",3);
for (var s = 1; s < macdSignal.length; s++) {
  if (macdSignal[s][1] > macdSignal[s-1][1]) {
    mac.append("path").attr("d",mLine([macdSignal[s-1],macdSignal[s]])).attr("fill","none")
      .attr("stroke",GREEN).attr("stroke-width",3);
  }
}
mac.selectAll("text.mn").data(macdNavyNotes).enter().append("text").attr("class","mn")
  .attr("x",function(d){ return x(d[1]); }).attr("y",function(d){ return yM(d[2]) + 5; })
  .attr("text-anchor","middle").attr("font-size",14).attr("font-weight","bold").attr("fill","#1a1aa0")
  .text(function(d){ return d[0]; });
mac.selectAll("text.mg").data(macdGrayNotes).enter().append("text").attr("class","mg")
  .attr("x",function(d){ return x(d[1]); }).attr("y",function(d){ return yM(d[2]) + 5; })
  .attr("text-anchor","middle").attr("font-size",14).attr("font-weight","bold").attr("fill","#8a8a8a")
  .text(function(d){ return d[0]; });

// ---------- alert marker panel ----------
var mk = svg.append("g").attr("clip-path","url(#cMark)");
mk.append("text").attr("x",3).attr("y",893).attr("font-size",12).text("\u00a9 2017 NinjaTrader, LLC");
mk.selectAll("rect.al").data(alertTimes).enter().append("rect").attr("class","al")
  .attr("x",function(d){ return x(d) - 1.5; }).attr("y",883).attr("width",3).attr("height",11)
  .attr("fill","#f0a01e");

// ---------- frame, separators, axes ----------
svg.append("rect").attr("x",0.5).attr("y",30.5).attr("width",1205).attr("height",920)
  .attr("fill","none").attr("stroke","#000");
[690,754,822,877].forEach(function(v) {
  svg.append("line").attr("x1",0).attr("x2",1206).attr("y1",v + 0.5).attr("y2",v + 0.5).attr("stroke","#000");
});
svg.append("line").attr("x1",0).attr("x2",XR).attr("y1",897.5).attr("y2",897.5).attr("stroke","#000");
svg.append("line").attr("x1",XR + 0.5).attr("x2",XR + 0.5).attr("y1",30).attr("y2",897).attr("stroke","#000");

var yAxis = svg.append("g");
priceTicks.forEach(function(p) {
  yAxis.append("line").attr("x1",XR).attr("x2",XR + 5).attr("y1",y(p)).attr("y2",y(p)).attr("stroke","#000");
  yAxis.append("text").attr("x",XR + 8).attr("y",y(p) + 5).attr("font-size",13).text(p.toFixed(2));
});
[100,0].forEach(function(v) {
  yAxis.append("line").attr("x1",XR).attr("x2",XR + 5).attr("y1",yS(v)).attr("y2",yS(v)).attr("stroke","#000");
  yAxis.append("text").attr("x",XR + 8).attr("y",yS(v) + 5).attr("font-size",13).text(v);
});

function tag(yv, label, fill, color, x1, hh) {
  var xe = x1 || XR + 62, h = hh || 8;
  svg.append("path").attr("d","M" + XR + "," + yv + "L" + (XR + 8) + "," + (yv - h) + "L" + xe + "," + (yv - h) +
      "L" + xe + "," + (yv + h) + "L" + (XR + 8) + "," + (yv + h) + "Z")
    .attr("fill",fill).attr("stroke","#333").attr("stroke-width",0.5);
  if (label) svg.append("text").attr("x",XR + 10).attr("y",yv + 5).attr("font-size",13).attr("fill",color).text(label);
}
tag(y(priceMarkers[0]) - 1, priceMarkers[0].toFixed(2), "#d8a630", "#000", XR + 62, 7);
tag(y(priceMarkers[1]) + 0.5, priceMarkers[1].toFixed(2), "#000", "#fff", XR + 62, 7);
tag(y(priceMarkers[2]) + 2, priceMarkers[2].toFixed(2), "#000", "#fff", XR + 62, 7);
tag(y(priceMarkers[3]), priceMarkers[3].toFixed(2), "#3399ff", "#fff");
tag(745, null, "#1a1aa0", "#fff", XR + 42);
tag(736, d3.format(".1f")(volMarker), "#ffd21a", "#000");
tag(yS(stochMarker), stochMarker.toFixed(2), "#000", "#fff", XR + 48);
tag(857, macdMarkers[0], "#8a8a8a", "#fff", XR + 70);
tag(860, macdMarkers[1], "#33dd33", "#000", XR + 52);
tag(893, "0", "#f0a01e", "#000", XR + 20);

var tfmt = function(t) {
  var mm = 6*60 + 30 + t;
  return d3.format("02")(Math.floor(mm/60)) + ":" + d3.format("02")(mm % 60);
};
timeTicks.forEach(function(t) {
  svg.append("line").attr("x1",x(t)).attr("x2",x(t)).attr("y1",897).attr("y2",903).attr("stroke","#000");
  svg.append("text").attr("x",x(t)).attr("y",916).attr("text-anchor","middle").attr("font-size",13).text(tfmt(t));
});
</script>
</body>
</html>
